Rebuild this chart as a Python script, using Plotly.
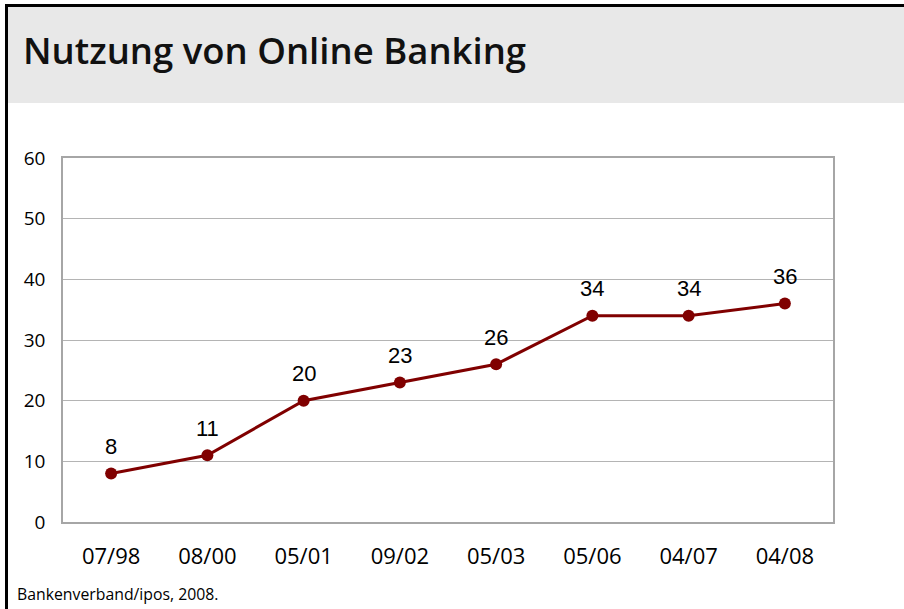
import plotly.graph_objects as go

categories = ["07/98", "08/00", "05/01", "09/02", "05/03", "05/06", "04/07", "04/08"]
values = [8, 11, 20, 23, 26, 34, 34, 36]
y_ticks = [0, 10, 20, 30, 40, 50, 60]

title_text = "Nutzung von Online Banking"
source_text = "Bankenverband/ipos, 2008."

W, H = 904, 609
L, R, T, B = 63, 833, 158, 522
pw, ph = R - L, B - T

def px_x(p):
    return (p - L) / pw

def px_y(p):
    return (B - p) / ph

fig = go.Figure()
fig.add_trace(go.Scatter(
    x=list(range(len(categories))), y=values, mode="lines+markers",
    line=dict(color="#800000", width=3),
    marker=dict(color="#800000", size=12),
    hoverinfo="skip", showlegend=False,
))

for i, v in enumerate(values):
    fig.add_annotation(x=i, y=v, text=str(v), showarrow=False, yshift=27,
                       font=dict(family="Liberation Sans, Arial", size=22, color="#000000"))

shapes = [
    dict(type="rect", xref="paper", yref="paper", x0=px_x(8), x1=px_x(W + 5),
         y0=px_y(103), y1=px_y(6), fillcolor="#e8e8e8", line=dict(width=0), layer="below"),
    dict(type="line", xref="paper", yref="paper", x0=px_x(6.5), x1=px_x(W + 5),
         y0=px_y(5.5), y1=px_y(5.5), line=dict(color="#000000", width=3)),
    dict(type="line", xref="paper", yref="paper", x0=px_x(6.5), x1=px_x(6.5),
         y0=px_y(4), y1=px_y(H + 5), line=dict(color="#000000", width=3)),
]

fig.add_annotation(xref="paper", yref="paper", x=px_x(21), y=px_y(50), xanchor="left", yanchor="middle",
                   text=title_text, showarrow=False,
                   font=dict(family="Open Sans", size=36.5, weight=600, color="#111111"))
fig.add_annotation(xref="paper", yref="paper", x=px_x(15), y=px_y(594), xanchor="left", yanchor="middle",
                   text=source_text, showarrow=False,
                   font=dict(family="Open Sans", size=15.8, color="#000000"))

fig.update_layout(
    width=W, height=H,
    margin=dict(l=L, r=W - R, t=T, b=H - B),
    paper_bgcolor="#ffffff", plot_bgcolor="#ffffff",
    shapes=shapes,
    xaxis=dict(range=[-0.5, len(categories) - 0.5], tickmode="array",
               tickvals=list(range(len(categories))), ticktext=categories,
               showgrid=False, zeroline=False, showline=True, linecolor="#a6a6a6", linewidth=1.5,
               mirror=True, ticks="", ticklabelstandoff=14,
               tickfont=dict(family="Open Sans", size=22, color="#000000")),
    yaxis=dict(range=[0, 60], tickmode="array", tickvals=y_ticks,
               showgrid=True, gridcolor="#b4b4b4", gridwidth=1, zeroline=False,
               showline=True, linecolor="#a6a6a6", linewidth=1.5, mirror=True, ticks="",
               ticklabelstandoff=12,
               tickfont=dict(family="Open Sans", size=19, color="#000000")),
    font=dict(family="Open Sans"),
)

fig.write_html("out.html", config={"displayModeBar": False},
               post_script="document.body.style.margin='0';document.body.style.overflow='hidden';")
